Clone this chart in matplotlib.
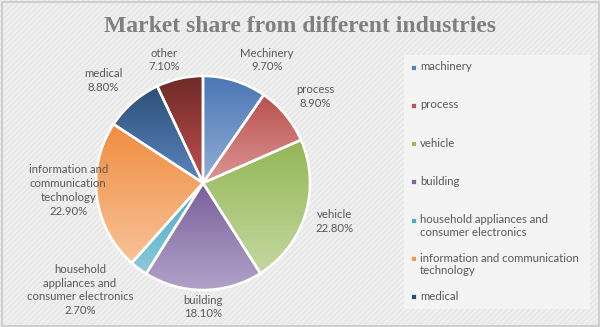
import numpy as np
import matplotlib
matplotlib.use("Agg")
import matplotlib.pyplot as plt
from matplotlib.patches import Rectangle
from matplotlib.colors import LinearSegmentedColormap

# market share by industry (%)
industries = ["machinery", "process", "vehicle", "building",
              "household appliances and\nconsumer electronics",
              "information and communication\ntechnology",
              "medical", "other"]
slice_labels = ["Mechinery", "process", "vehicle", "building",
                "household\nappliances and\nconsumer electronics",
                "information and\ncommunication\ntechnology",
                "medical", "other"]
shares = [9.7, 8.9, 22.8, 18.1, 2.7, 22.9, 8.8, 7.1]

# gradient colours for each slice (top -> bottom)
top_colors = ["#4a76b5", "#b9504d", "#94b655", "#7a5f9b",
              "#4aa8c2", "#f08d40", "#2d4f78", "#6f2a28"]
bottom_colors = ["#93afd6", "#dc9694", "#c4d8a0", "#b1a2c8",
                 "#8ccadb", "#f8c298", "#5b86bf", "#c0504d"]
legend_colors = ["#4f81bd", "#c0504d", "#9bbb59", "#8064a2",
                 "#4bacc6", "#f79646", "#2c4d75"]

# label anchor offsets in units of the pie radius
label_offsets = [(0.60, 1.15), (1.05, 0.81), (1.23, -0.36), (0.0, -1.16),
                 (-1.15, -1.0), (-1.26, -0.07), (-0.93, 0.96), (-0.36, 1.15)]

W, H = 600, 327
text_gray = "#595959"
label_font = ["Lato", "DejaVu Sans"]

fig = plt.figure(figsize=(6, 3.27), dpi=100)
ax = fig.add_axes([0, 0, 1, 1])

# hatched background and border
plt.rcParams["hatch.linewidth"] = 0.6
ax.add_patch(Rectangle((0, 0), W, H, facecolor="#efefef", edgecolor="#e1e1e1",
                       hatch="//////", lw=0, zorder=0))
ax.add_patch(Rectangle((1.5, 1.5), W - 3, H - 3, facecolor="none",
                       edgecolor="#cfcfcf", lw=1.5, zorder=1))

# legend panel
ax.add_patch(Rectangle((404, H - 309), 186, 254, facecolor="#f4f4f4",
                       edgecolor="none", zorder=1))

cx, cy, r = 203, H - 183, 107
wedges, _ = ax.pie(shares, startangle=90, counterclock=False, radius=r,
                   center=(cx, cy), frame=True,
                   wedgeprops=dict(edgecolor="white", linewidth=1.8))

# vertical gradient fill clipped to each wedge
grad = np.linspace(0, 1, 256).reshape(-1, 1)
for w, c0, c1 in zip(wedges, top_colors, bottom_colors):
    w.set_facecolor("none")
    w.set_zorder(4)
    ext = w.get_path().get_extents()
    cmap = LinearSegmentedColormap.from_list("g", [c1, c0])
    im = ax.imshow(grad, cmap=cmap, aspect="auto", origin="lower",
                   extent=[ext.x0, ext.x1, ext.y0, ext.y1], zorder=3)
    im.set_clip_path(w)

ax.set_xlim(0, W)
ax.set_ylim(0, H)
ax.axis("off")

for lab, val, (ox, oy) in zip(slice_labels, shares, label_offsets):
    ax.text(cx + ox * r, cy + oy * r, f"{lab}\n{val:.2f}%", ha="center",
            va="center", fontsize=8.2, color=text_gray, family=label_font,
            linespacing=1.3, zorder=5)

# legend entries (the last category does not fit in the panel)
for i, (name, col) in enumerate(zip(industries[:7], legend_colors)):
    y = H - (67 + i * 38.3)
    ax.add_patch(Rectangle((411, y - 2.5), 5, 5, facecolor=col,
                           edgecolor="white", lw=0.5, zorder=5))
    ax.text(420, y + 6, name, ha="left", va="top", fontsize=8.2,
            color=text_gray, family=label_font, linespacing=1.2, zorder=5)

ax.text(W / 2, H - 27, "Market share from different industries", ha="center",
        va="center", fontsize=17, fontweight="bold", color="#7f7f7f",
        family=["Liberation Serif"], zorder=5)

fig.savefig("out.png", dpi=100)
